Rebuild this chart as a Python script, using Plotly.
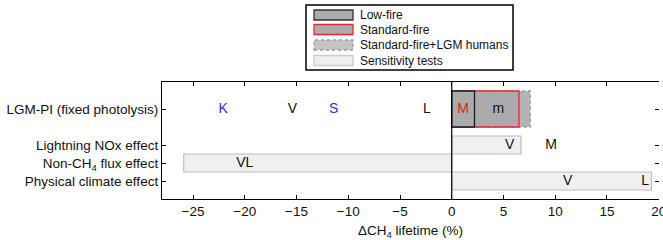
import plotly.graph_objects as go

# ---------------- data ----------------
categories = ["Physical climate effect", "Non-CH<sub>4</sub> flux effect",
              "Lightning NOx effect", "LGM-PI (fixed photolysis)"]
category_pos = [1, 2, 3, 5]

# LGM-PI main runs (start at 0)
lgm_lowfire = 2.2
lgm_standard = 6.5
lgm_std_humans = 7.6

# sensitivity tests: (row position, start, end)
sens_rows = [3, 2, 1]
sens_start = [0, -25.9, 0]
sens_end = [6.7, 0, 19.3]

# model letters
lab_text = ["K", "V", "S", "L", "M", "m", "V", "M", "VL", "V", "L"]
lab_x = [-22.1, -15.4, -11.4, -2.4, 1.1, 4.5, 5.6, 9.6, -20.0, 11.2, 18.7]
lab_y = [5, 5, 5, 5, 5, 5, 3, 3, 2, 1, 1]
lab_color = ["#3030c8", "#111111", "#3030c8", "#111111", "#e02020", "#111111",
             "#111111", "#111111", "#111111", "#111111", "#111111"]

x_ticks = [-25, -20, -15, -10, -5, 0, 5, 10, 15, 20]
x_ticktext = ["\u221225", "\u221220", "\u221215", "\u221210", "\u22125", "0", "5", "10", "15", "20"]

legend_labels = ["Low-fire", "Standard-fire", "Standard-fire+LGM humans", "Sensitivity tests"]

# ---------------- figure ----------------
FONT = "Liberation Sans, Arial, sans-serif"
W, H = 663, 240
PL, PR, PT, PB = 162, 659, 82, 199

def px2paper(px, py):
    return (px - PL) / (PR - PL), (PB - py) / (PB - PT)

fig = go.Figure()

# sensitivity test bars
for r, s, e in zip(sens_rows, sens_start, sens_end):
    fig.add_trace(go.Bar(
        x=[e - s], base=[s], y=[r], width=[1.0], orientation="h",
        marker=dict(color="#f0f0f0", line=dict(color="#bdbdbd", width=1.2)),
        showlegend=False, hoverinfo="skip"))

# LGM-PI row rectangles (drawn back to front)
lgm_y = category_pos[3]
half = 1.0
def rect(x0, x1, yc):
    return [x0, x1, x1, x0, x0], [yc - half, yc - half, yc + half, yc + half, yc - half]

for val, fill, lc, dash in [(lgm_std_humans, "#b4b4b4", "#9a9a9a", "dot"),
                            (lgm_standard, "#ababab", "#e8292b", "solid"),
                            (lgm_lowfire, "#ababab", "#1a1a1a", "solid")]:
    xs, ys = rect(0, val, lgm_y)
    fig.add_trace(go.Scatter(
        x=xs, y=ys, mode="lines", fill="toself", fillcolor=fill,
        line=dict(color=lc, width=1.3, dash=dash),
        showlegend=False, hoverinfo="skip"))

# letters
fig.add_trace(go.Scatter(
    x=lab_x, y=lab_y, mode="text", text=lab_text,
    textfont=dict(family=FONT, size=14, color=lab_color),
    showlegend=False, hoverinfo="skip"))

# zero line
fig.add_shape(type="line", x0=0, x1=0, y0=0, y1=1, xref="x", yref="paper",
              line=dict(color="black", width=1.2), layer="above")

# manual legend
lx0, ly0 = px2paper(306, 5)
lx1, ly1 = px2paper(513, 70)
fig.add_shape(type="rect", xref="paper", yref="paper", x0=lx0, x1=lx1, y0=ly1, y1=ly0,
              line=dict(color="black", width=1.5), fillcolor="white", layer="above")
row_cy = [15, 29.5, 45, 60.5]
sw_fill = ["#ababab", "#ababab", "#c4c4c4", "#efefef"]
sw_line = ["#333333", "#e8292b", "#9a9a9a", "#cccccc"]
sw_dash = ["solid", "solid", "dot", "solid"]
for cy, lab, f, lc, d in zip(row_cy, legend_labels, sw_fill, sw_line, sw_dash):
    sx0, sy0 = px2paper(314, cy - 5)
    sx1, sy1 = px2paper(353, cy + 5)
    fig.add_shape(type="rect", xref="paper", yref="paper", x0=sx0, x1=sx1, y0=sy1, y1=sy0,
                  fillcolor=f, line=dict(color=lc, width=1.3, dash=d), layer="above")
    tx, ty = px2paper(358, cy)
    fig.add_annotation(xref="paper", yref="paper", x=tx, y=ty, text=lab, showarrow=False,
                       xanchor="left", yanchor="middle",
                       font=dict(family=FONT, size=12, color="#111111"))

fig.update_layout(
    width=W, height=H,
    margin=dict(l=PL, r=W - PR, t=PT, b=H - PB, pad=0, autoexpand=False),
    paper_bgcolor="white", plot_bgcolor="white",
    barmode="overlay", showlegend=False,
    font=dict(family=FONT, size=13, color="#111111"),
    xaxis=dict(range=[-28, 20.03], tickvals=x_ticks, ticktext=x_ticktext,
               ticks="inside", ticklen=4, tickcolor="black", tickwidth=1,
               showline=True, linecolor="black", linewidth=1.3, mirror="ticks",
               showgrid=False, zeroline=False, ticklabeloverflow="allow",
               automargin=False,
               tickfont=dict(size=13.5, family=FONT),
               title=dict(text="\u0394CH<sub>4</sub> lifetime (%)", standoff=14,
                          font=dict(size=13.5, family=FONT))),
    yaxis=dict(range=[0, 6.5], tickvals=category_pos, ticktext=categories,
               ticks="inside", ticklen=4, tickcolor="black", tickwidth=1,
               showline=True, linecolor="black", linewidth=1.3, mirror=False,
               showgrid=False, zeroline=False, automargin=False,
               tickfont=dict(size=13.5, family=FONT)),
    yaxis2=dict(range=[0, 6.5], overlaying="y", side="right", tickvals=category_pos,
                showticklabels=False, ticks="inside", ticklen=4, tickcolor="black",
                tickwidth=1, showline=False, showgrid=False, zeroline=False,
                automargin=False),
)
# empty trace so that the right-hand tick axis is drawn
fig.add_trace(go.Scatter(x=[None], y=[None], yaxis="y2", showlegend=False, hoverinfo="skip"))

fig.write_html("out.html")
